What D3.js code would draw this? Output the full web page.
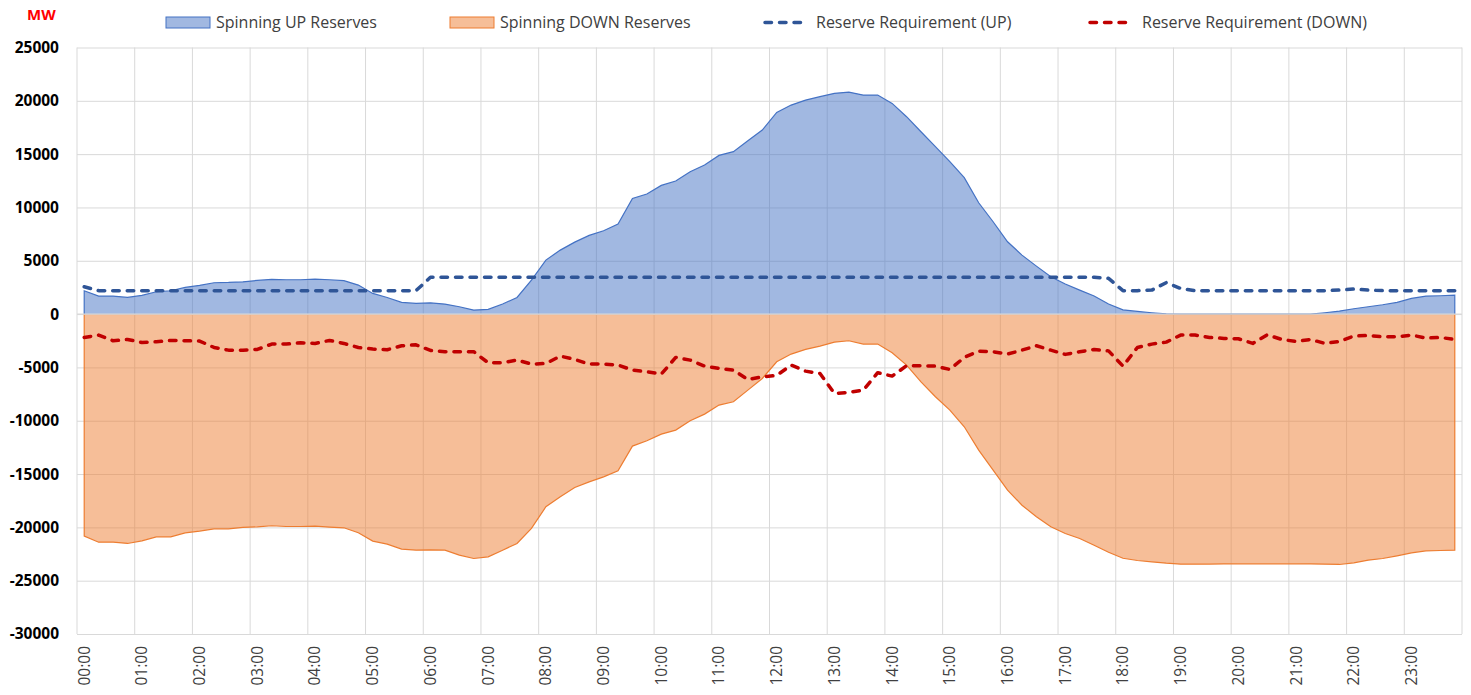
<!DOCTYPE html>
<html>
  <head>
    <meta charset="utf-8">
    <script src="https://d3js.org/d3.v7.min.js"></script>
    <style>
      body { margin: 0; background: #ffffff; }
      svg text { font-family: "Open Sans", sans-serif; }
    </style>
  </head>
  <body>
    <svg width="1471" height="695"></svg>
    <script>
      // hour labels shown on the category axis (one every 4 quarter-hours)
      var hourLabels = [
        "00:00", "01:00", "02:00", "03:00", "04:00", "05:00", "06:00", "07:00",
        "08:00", "09:00", "10:00", "11:00", "12:00", "13:00", "14:00", "15:00",
        "16:00", "17:00", "18:00", "19:00", "20:00", "21:00", "22:00", "23:00"
      ];

      // quarter-hour values, MW
      var upReserves = [
        2190, 1690, 1690, 1560, 1750, 2095, 2190, 2500, 2690, 2940, 2970, 3030,
        3160, 3250, 3220, 3220, 3280, 3220, 3130, 2720, 1940, 1560, 1095, 1000,
        1060, 940, 690, 375, 440, 940, 1560, 3190, 5065, 6000, 6750, 7380,
        7820, 8440, 10850, 11260, 12070, 12475, 13350, 13980, 14880, 15230, 16260, 17260,
        18915, 19600, 20070, 20390, 20700, 20820, 20540, 20540, 19760, 18510, 17100, 15700,
        14290, 12790, 10440, 8660, 6785, 5530, 4500, 3500, 2815, 2250, 1690, 950,
        400, 250, 125, 30, 0, 0, 0, 0, 0, 0, 0, 0,
        0, 0, 125, 280, 500, 690, 875, 1095, 1470, 1690, 1720, 1780
      ];

      var downReserves = [
        -20820, -21390, -21390, -21510, -21260, -20890, -20890, -20510, -20350, -20140, -20140, -20010,
        -19950, -19850, -19920, -19920, -19890, -19980, -20040, -20510, -21290, -21570, -22040, -22140,
        -22120, -22140, -22600, -22920, -22760, -22140, -21510, -20100, -18070, -17130, -16260, -15730,
        -15260, -14700, -12380, -11880, -11260, -10880, -10005, -9380, -8535, -8220, -7130, -6035,
        -4470, -3750, -3315, -3000, -2630, -2500, -2815, -2815, -3630, -4785, -6350, -7755,
        -9005, -10570, -12760, -14630, -16510, -17920, -19010, -19950, -20570, -21040, -21670, -22340,
        -22900, -23105, -23230, -23360, -23450, -23450, -23440, -23430, -23420, -23420, -23420, -23420,
        -23420, -23430, -23450, -23480, -23325, -23075, -22920, -22670, -22390, -22200, -22170, -22140
      ];

      var reqUp = [
        2560, 2200, 2200, 2200, 2200, 2200, 2200, 2200, 2200, 2200, 2200, 2200,
        2200, 2200, 2200, 2200, 2200, 2200, 2200, 2200, 2200, 2200, 2200, 2200,
        3450, 3450, 3450, 3450, 3450, 3450, 3450, 3450, 3450, 3450, 3450, 3450,
        3450, 3450, 3450, 3450, 3450, 3450, 3450, 3450, 3450, 3450, 3450, 3450,
        3450, 3450, 3450, 3450, 3450, 3450, 3450, 3450, 3450, 3450, 3450, 3450,
        3450, 3450, 3450, 3450, 3450, 3450, 3450, 3450, 3450, 3450, 3450, 3350,
        2200, 2200, 2250, 2950, 2400, 2200, 2200, 2200, 2200, 2200, 2200, 2200,
        2200, 2200, 2200, 2250, 2350, 2250, 2200, 2200, 2200, 2200, 2200, 2200
      ];

      var reqDown = [
        -2190, -1970, -2500, -2380, -2660, -2600, -2470, -2500, -2530, -3130, -3380, -3380,
        -3310, -2815, -2815, -2690, -2750, -2470, -2750, -3130, -3280, -3340, -2970, -2880,
        -3410, -3530, -3530, -3530, -4565, -4565, -4315, -4690, -4630, -3940, -4250, -4690,
        -4690, -4780, -5250, -5410, -5630, -4065, -4315, -4880, -5100, -5250, -6130, -5880,
        -5750, -4785, -5350, -5570, -7440, -7350, -7130, -5500, -5815, -4845, -4845, -4880,
        -5190, -4065, -3470, -3530, -3750, -3380, -2970, -3380, -3780, -3530, -3315, -3450,
        -4880, -3130, -2815, -2630, -1970, -1970, -2190, -2280, -2315, -2750, -1940, -2380,
        -2565, -2380, -2750, -2565, -2065, -2000, -2125, -2125, -1970, -2250, -2190, -2380
      ];

      var svg = d3.select("svg");
      var plotLeft = 77, plotRight = 1462, plotTop = 47.5, plotBottom = 634;

      var slots = d3.range(upReserves.length);
      var xScale = d3.scaleBand().domain(slots).range([plotLeft, plotRight]);
      var xc = function (i) { return xScale(i) + xScale.bandwidth() / 2; };
      var yScale = d3.scaleLinear().domain([-30000, 25000]).range([plotBottom, plotTop]);

      // horizontal gridlines + y labels (plain hyphen for negatives, like the original)
      var yAxis = svg.append("g")
        .attr("transform", "translate(" + plotLeft + ",0)")
        .call(d3.axisLeft(yScale).ticks(11).tickSize(-(plotRight - plotLeft)).tickPadding(18)
          .tickFormat(function (d) { return String(d); }));
      yAxis.select(".domain").remove();
      yAxis.selectAll(".tick line").attr("stroke", "#d9d9d9");
      yAxis.selectAll(".tick text")
        .attr("fill", "#000")
        .style("font-size", "15.5px")
        .style("font-weight", "bold");

      // vertical gridlines on hour boundaries
      var hourEdges = d3.range(0, slots.length + 1, 4);
      svg.append("g").selectAll("line")
        .data(hourEdges)
        .enter()
        .append("line")
        .attr("x1", function (i) { return i < slots.length ? xScale(i) : plotRight; })
        .attr("x2", function (i) { return i < slots.length ? xScale(i) : plotRight; })
        .attr("y1", plotTop)
        .attr("y2", plotBottom)
        .attr("stroke", "#d9d9d9");

      // areas
      function drawArea(data, color) {
        var area = d3.area()
          .x(function (d, i) { return xc(i); })
          .y0(yScale(0))
          .y1(function (d) { return yScale(d); });
        svg.append("path")
          .datum(data)
          .attr("d", area)
          .attr("fill", color)
          .attr("fill-opacity", 0.5);

        var outline = [[0, 0]].concat(data.map(function (v, i) { return [i, v]; }), [[data.length - 1, 0]]);
        svg.append("path")
          .datum(outline)
          .attr("d", d3.line().x(function (d) { return xc(d[0]); }).y(function (d) { return yScale(d[1]); }))
          .attr("fill", "none")
          .attr("stroke", color)
          .attr("stroke-width", 1.2);
      }
      drawArea(upReserves, "#4472c4");
      drawArea(downReserves, "#ed7d31");

      // zero axis line
      svg.append("line")
        .attr("x1", plotLeft).attr("x2", plotRight)
        .attr("y1", yScale(0)).attr("y2", yScale(0))
        .attr("stroke", "#d9d9d9")
        .attr("stroke-width", 1.2);

      // requirement lines
      function drawReq(data, color) {
        svg.append("path")
          .datum(data)
          .attr("d", d3.line().x(function (d, i) { return xc(i); }).y(function (d) { return yScale(d); }))
          .attr("fill", "none")
          .attr("stroke", color)
          .attr("stroke-width", 3.5)
          .attr("stroke-dasharray", "6.5,8")
          .attr("stroke-linecap", "round")
          .attr("stroke-linejoin", "round");
      }
      drawReq(reqUp, "#2f5597");
      drawReq(reqDown, "#c00000");

      // x labels, rotated
      var xAxis = svg.append("g")
        .attr("transform", "translate(0," + plotBottom + ")")
        .call(d3.axisBottom(xScale)
          .tickValues(d3.range(0, slots.length, 4))
          .tickSize(0)
          .tickFormat(function (i) { return hourLabels[i / 4]; }));
      xAxis.select(".domain").remove();
      xAxis.selectAll(".tick text")
        .attr("transform", "rotate(-90)")
        .attr("x", -12)
        .attr("y", 0)
        .attr("dy", "0.35em")
        .attr("text-anchor", "end")
        .attr("fill", "#404040")
        .style("font-size", "15.5px");

      // unit label
      svg.append("text")
        .attr("x", 27)
        .attr("y", 20)
        .attr("fill", "#ff0000")
        .style("font-size", "15px")
        .style("font-weight", "bold")
        .text("MW");

      // legend
      var legend = svg.append("g").style("font-size", "16px");
      legend.append("rect").attr("x", 166).attr("y", 17).attr("width", 44).attr("height", 11)
        .attr("fill", "#4472c4").attr("fill-opacity", 0.5).attr("stroke", "#4472c4");
      legend.append("text").attr("x", 216).attr("y", 28).attr("fill", "#404040").text("Spinning UP Reserves");
      legend.append("rect").attr("x", 450).attr("y", 17).attr("width", 44).attr("height", 11)
        .attr("fill", "#ed7d31").attr("fill-opacity", 0.5).attr("stroke", "#ed7d31");
      legend.append("text").attr("x", 500).attr("y", 28).attr("fill", "#404040").text("Spinning DOWN Reserves");
      legend.append("line").attr("x1", 765).attr("x2", 806).attr("y1", 22.5).attr("y2", 22.5)
        .attr("stroke", "#2f5597").attr("stroke-width", 3.5).attr("stroke-dasharray", "6.5,8").attr("stroke-linecap", "round");
      legend.append("text").attr("x", 816).attr("y", 28).attr("fill", "#404040").text("Reserve Requirement (UP)");
      legend.append("line").attr("x1", 1090).attr("x2", 1131).attr("y1", 22.5).attr("y2", 22.5)
        .attr("stroke", "#c00000").attr("stroke-width", 3.5).attr("stroke-dasharray", "6.5,8").attr("stroke-linecap", "round");
      legend.append("text").attr("x", 1142).attr("y", 28).attr("fill", "#404040").text("Reserve Requirement (DOWN)");
    </script>
  </body>
</html>
